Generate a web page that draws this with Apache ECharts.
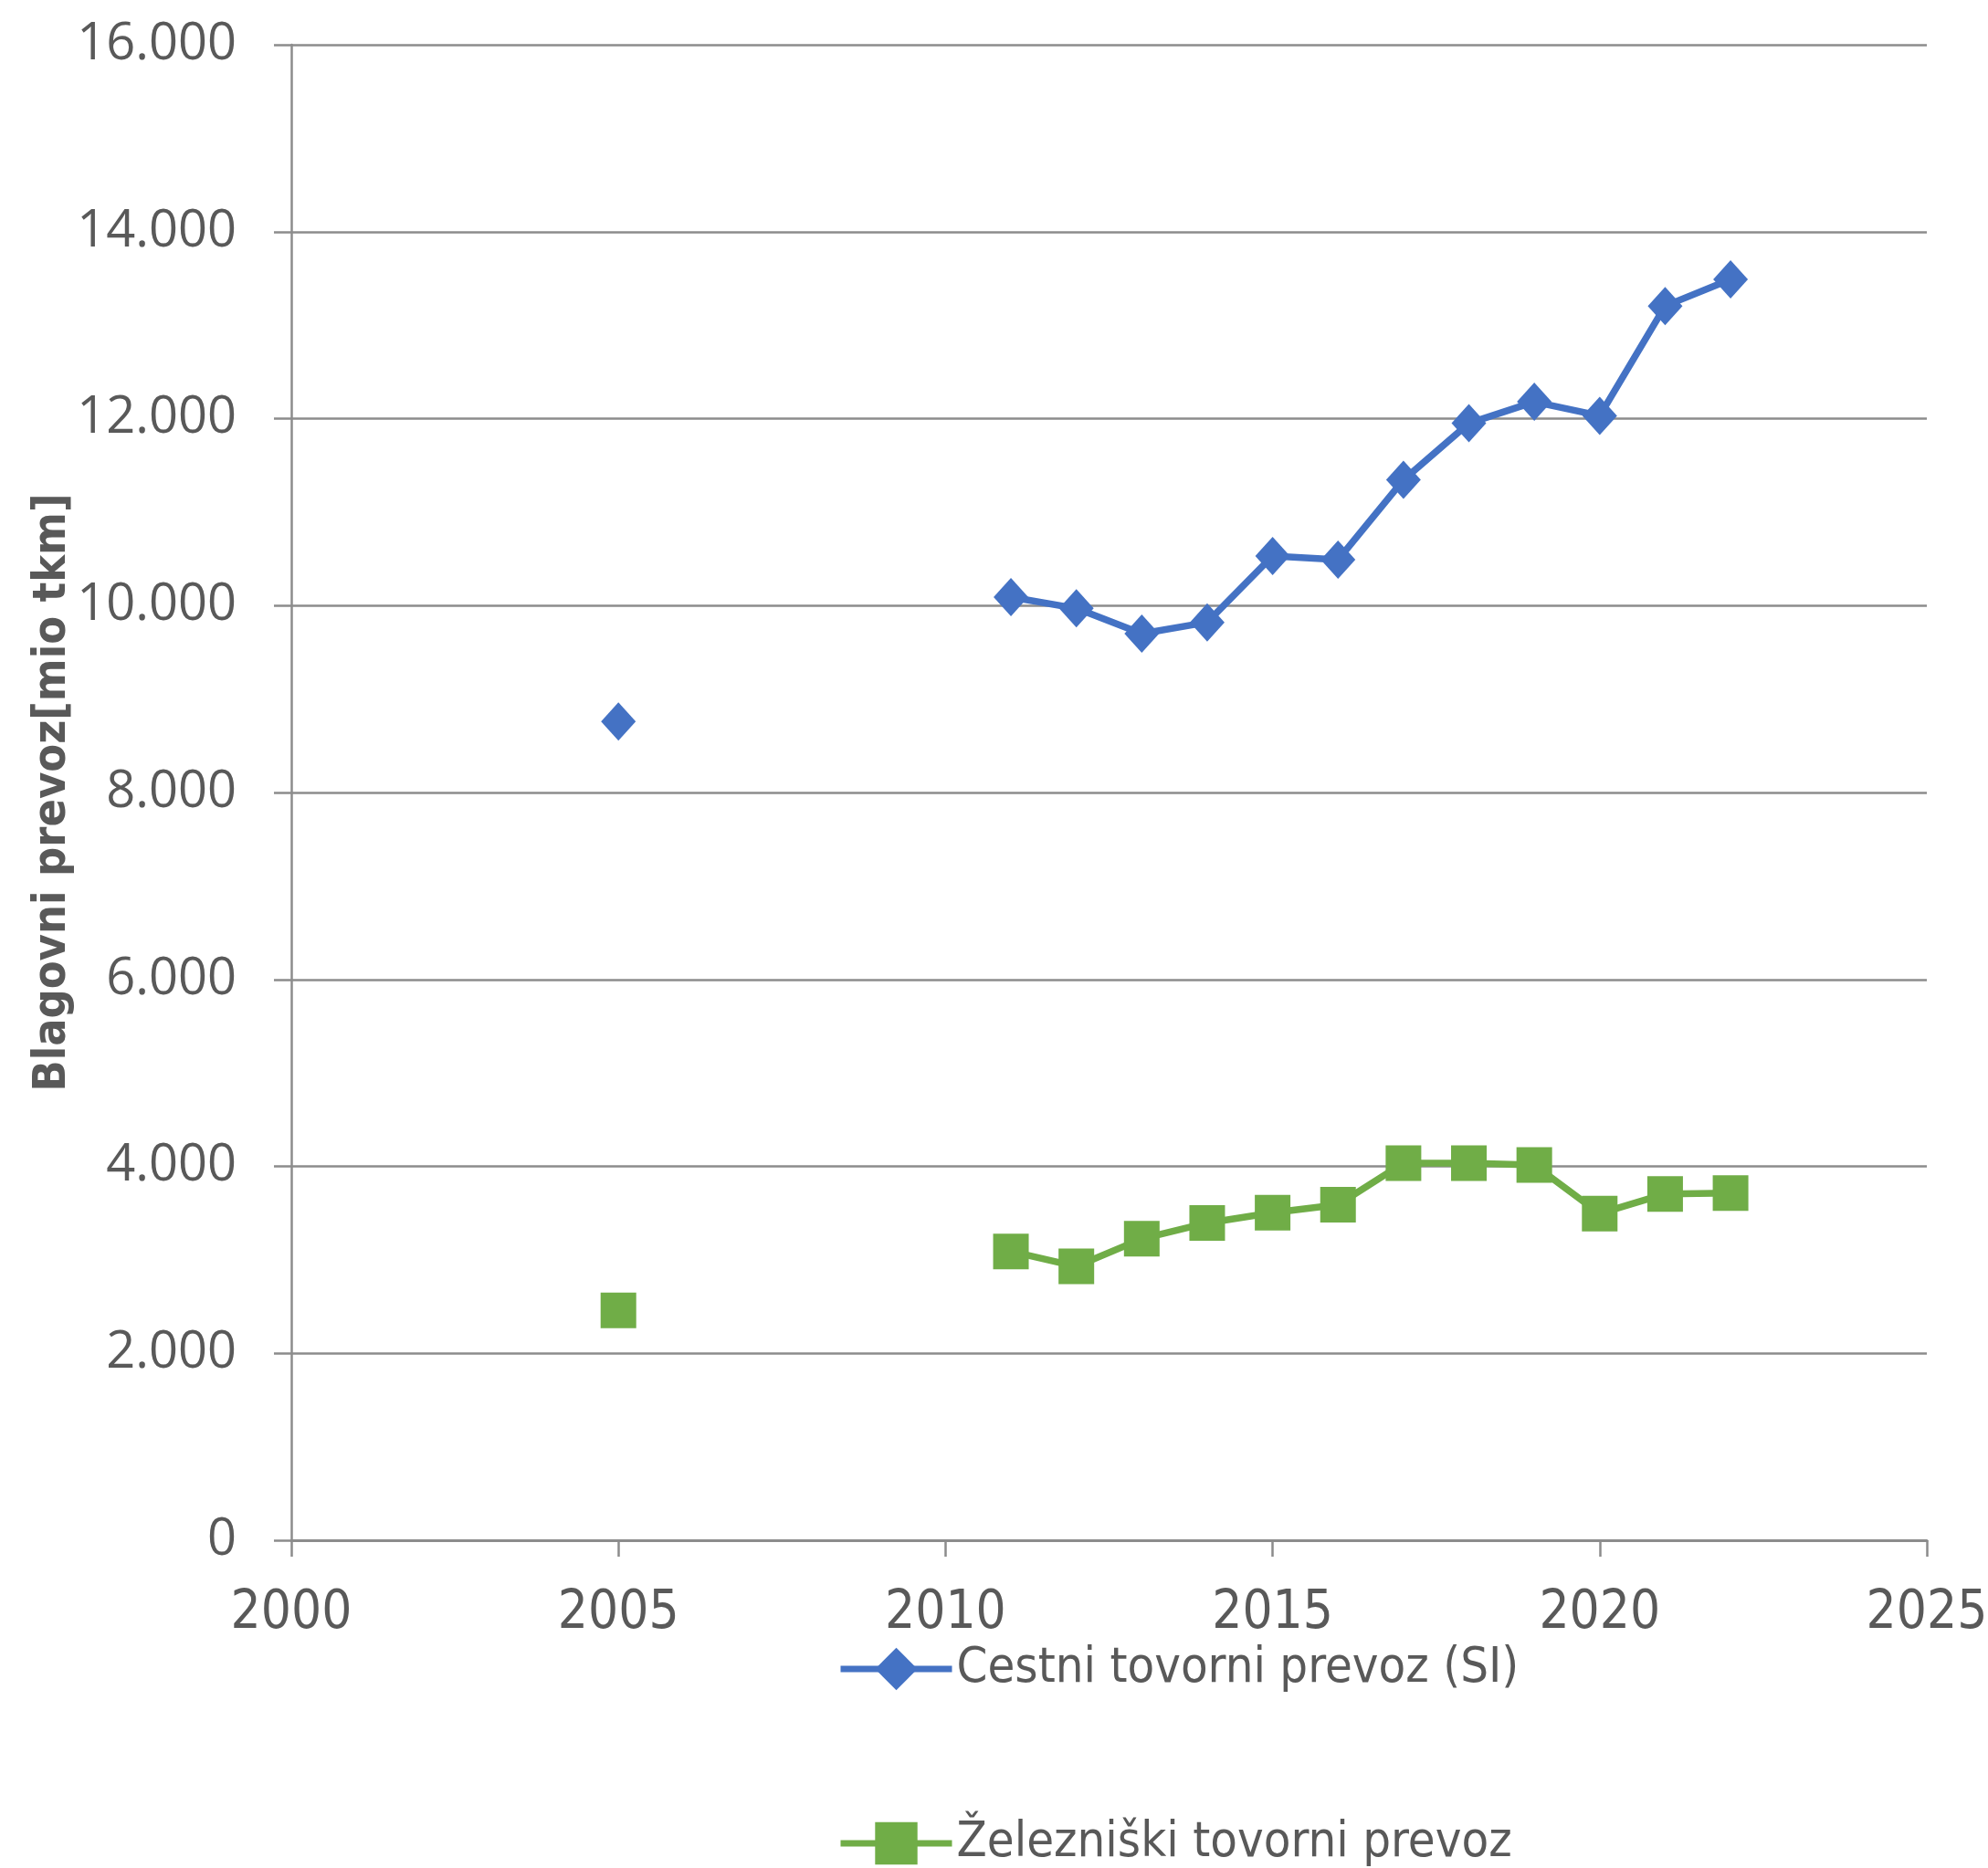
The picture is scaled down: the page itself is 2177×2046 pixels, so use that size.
<!DOCTYPE html>
<html>
<head>
<meta charset="utf-8">
<script src="https://cdn.jsdelivr.net/npm/echarts@6/dist/echarts.min.js"></script>
<style>
html,body{margin:0;padding:0;background:#fff;}
#c{width:2177px;height:2046px;}
</style>
</head>
<body>
<div id="c"></div>
<script>
const years = [2005, 2006, 2007, 2008, 2009, 2010, 2011, 2012, 2013, 2014, 2015, 2016, 2017, 2018, 2019, 2020, 2021, 2022];
const roadFreight = [8760, null, null, null, null, null, 10090, 9970, 9700, 9820, 10530, 10490, 11345, 11950, 12180, 12030, 13205, 13490];
const railFreight = [2460, null, null, null, null, null, 3090, 2930, 3225, 3395, 3505, 3590, 4035, 4035, 4015, 3495, 3705, 3715];
const seriesNames = ['Cestni tovorni prevoz (SI)', 'Železniški tovorni prevoz'];
const yAxisTitle = 'Blagovni prevoz[mio tkm]';

const toPairs = (vals) => years.map((y, i) => [y, vals[i] === null ? '-' : vals[i]]);
const fmt = (v) => String(v).replace(/\B(?=(\d{3})+(?!\d))/g, '.');

const narrow = '"Liberation Sans Narrow", "DejaVu Sans Condensed", "Open Sans", sans-serif';
const textColor = '#595959';
const gridColor = '#8c8c8c';
const blue = '#4472C4';
const green = '#70AD47';

const legendBase = {
  orient: 'vertical', left: 912,
  itemWidth: 122, itemHeight: 58,
  textStyle: { color: textColor, fontSize: 54, fontFamily: narrow },
  lineStyle: { width: 7 }
};

const chart = echarts.init(document.getElementById('c'));
chart.setOption({
  backgroundColor: '#fff',
  animation: false,
  grid: { left: 319, right: 67, top: 49, bottom: 359, containLabel: false, outerBoundsMode: 'none' },
  xAxis: {
    type: 'value', min: 2000, max: 2025, interval: 5,
    axisLine: { show: true, lineStyle: { color: gridColor, width: 3 } },
    axisTick: { show: true, length: 18, lineStyle: { color: gridColor, width: 2.5 } },
    splitLine: { show: false },
    axisLabel: { color: textColor, fontSize: 58, fontFamily: narrow, margin: 52, formatter: (v) => String(v) }
  },
  yAxis: {
    type: 'value', min: 0, max: 16000, interval: 2000,
    name: yAxisTitle, nameLocation: 'middle', nameGap: 236, nameRotate: 90,
    nameMoveOverlap: false,
    nameTextStyle: { color: textColor, fontSize: 50, fontWeight: 'bold', fontFamily: narrow },
    axisLine: { show: true, lineStyle: { color: gridColor, width: 2.5 } },
    axisTick: { show: true, length: 19, lineStyle: { color: gridColor, width: 2.5 } },
    splitLine: { show: true, lineStyle: { color: gridColor, width: 2.5 } },
    axisLabel: { color: textColor, fontSize: 56, fontFamily: '"Open Sans", sans-serif', margin: 60, formatter: fmt }
  },
  legend: [
    Object.assign({}, legendBase, { top: 1796, data: [seriesNames[0]] }),
    Object.assign({}, legendBase, { top: 1987, data: [seriesNames[1]] })
  ],
  series: [
    {
      name: seriesNames[0], type: 'line', data: toPairs(roadFreight),
      connectNulls: false, symbol: 'diamond', symbolSize: [38, 42],
      lineStyle: { color: blue, width: 7.5 },
      itemStyle: { color: blue }
    },
    {
      name: seriesNames[1], type: 'line', data: toPairs(railFreight),
      connectNulls: false, symbol: 'rect', symbolSize: 39,
      lineStyle: { color: green, width: 7.5 },
      itemStyle: { color: green }
    }
  ]
});
</script>
</body>
</html>
